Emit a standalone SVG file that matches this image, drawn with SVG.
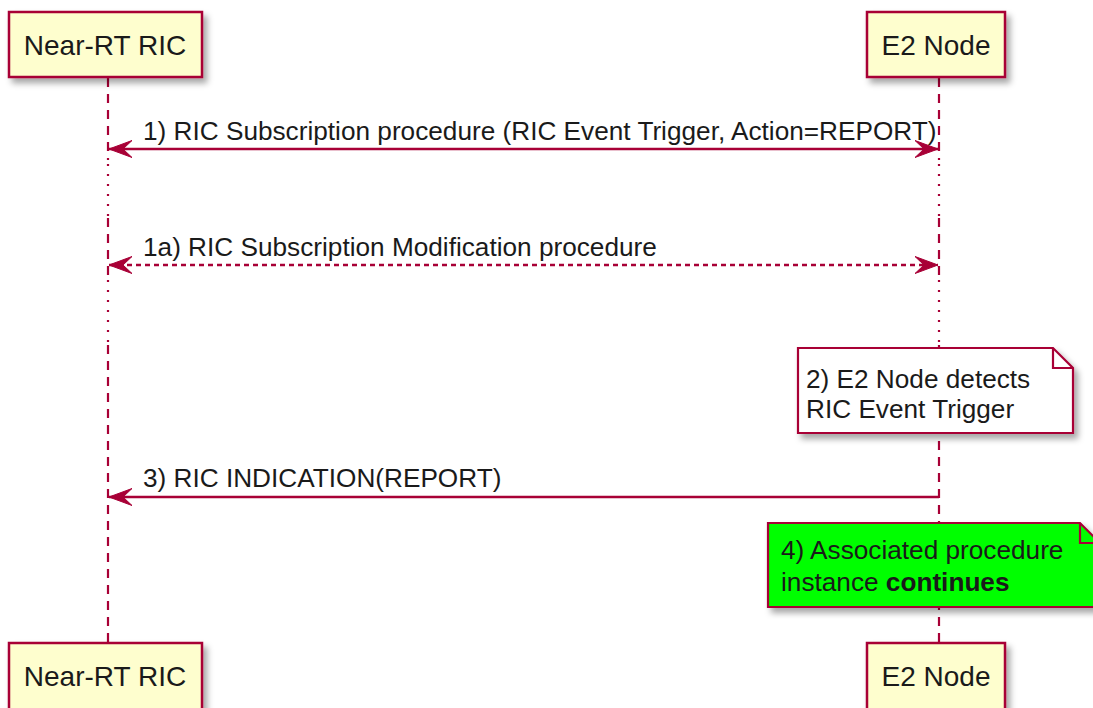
<svg xmlns="http://www.w3.org/2000/svg" width="1093" height="708" viewBox="0 0 1093 708">
<style>
.part{fill:#FEFECE;stroke:#A80036;stroke-width:2.5}
.ptxt{font-family:"Liberation Sans",Arial,sans-serif;font-size:28px;fill:#1a1a1a;text-anchor:middle}
.mtxt{font-family:"Liberation Sans",Arial,sans-serif;font-size:26.2px;fill:#1a1a1a}
.life{stroke:#A80036;stroke-width:2.2;fill:none}
.dash{stroke-dasharray:9 7}
.dot{stroke-dasharray:2 8}
.msg{stroke:#A80036;stroke-width:2.4;fill:none}
.head{fill:#A80036;stroke:#A80036;stroke-width:1}
.note{stroke:#A80036;stroke-width:2.2}
</style>
<defs>
<filter id="sh" x="-10%" y="-10%" width="130%" height="140%">
<feDropShadow dx="4" dy="5" stdDeviation="3" flood-color="#000" flood-opacity="0.35"/>
</filter>
<marker id="ah" viewBox="0 0 26 20" refX="25" refY="10" markerWidth="26" markerHeight="20" markerUnits="userSpaceOnUse" orient="auto-start-reverse">
<path d="M25,10 L2,1.5 L11,10 L2,18.5 Z" class="head"/>
</marker>
</defs>
<rect width="1093" height="708" fill="#ffffff"/>
<g id="lifelines">
<path class="life dash" d="M108,78 V160 M108,218 V276 M108,345 V643"/>
<path class="life dot" d="M108,164 V216 M108,280 V343"/>
<path class="life dash" d="M939,78 V160 M939,218 V276 M939,345 V643"/>
<path class="life dot" d="M939,164 V216 M939,280 V343"/>
</g>
<g id="participant-ric-top">
<rect class="part" x="9" y="12" width="193" height="65" filter="url(#sh)"/>
<text class="ptxt" x="105" y="55">Near-RT RIC</text>
</g>
<g id="participant-e2-top">
<rect class="part" x="867" y="12" width="138" height="65" filter="url(#sh)"/>
<text class="ptxt" x="936" y="55">E2 Node</text>
</g>
<g id="participant-ric-bottom">
<rect class="part" x="9" y="643" width="193" height="75" filter="url(#sh)"/>
<text class="ptxt" x="105" y="686">Near-RT RIC</text>
</g>
<g id="participant-e2-bottom">
<rect class="part" x="867" y="643" width="138" height="75" filter="url(#sh)"/>
<text class="ptxt" x="936" y="686">E2 Node</text>
</g>
<g id="connectors">
<line class="msg" x1="109" y1="149" x2="938" y2="149" marker-start="url(#ah)" marker-end="url(#ah)"/>
<text class="mtxt" x="143" y="140">1) RIC Subscription procedure (RIC Event Trigger, Action=REPORT)</text>
<line class="msg" x1="109" y1="265" x2="938" y2="265" stroke-dasharray="5 4" marker-start="url(#ah)" marker-end="url(#ah)"/>
<text class="mtxt" x="143" y="256">1a) RIC Subscription Modification procedure</text>
<line class="msg" x1="939" y1="497" x2="109" y2="497" marker-end="url(#ah)"/>
<text class="mtxt" x="143" y="487">3) RIC INDICATION(REPORT)</text>
</g>
<g id="note-2">
<path class="note" fill="#ffffff" filter="url(#sh)" d="M798,348 H1053 L1073,368 V433 H798 Z"/>
<path class="note" fill="none" d="M1053,348 V368 H1073"/>
<text class="mtxt" x="806" y="388">2) E2 Node detects</text>
<text class="mtxt" x="806" y="418">RIC Event Trigger</text>
</g>
<g id="note-4">
<path class="note" fill="#00FF00" filter="url(#sh)" d="M768,523 H1080 L1100,543 V607 H768 Z"/>
<path class="note" fill="none" d="M1080,523 V543 H1100"/>
<text class="mtxt" x="781" y="559">4) Associated procedure</text>
<text class="mtxt" x="781" y="591">instance <tspan font-weight="bold">continues</tspan></text>
</g>
</svg>
